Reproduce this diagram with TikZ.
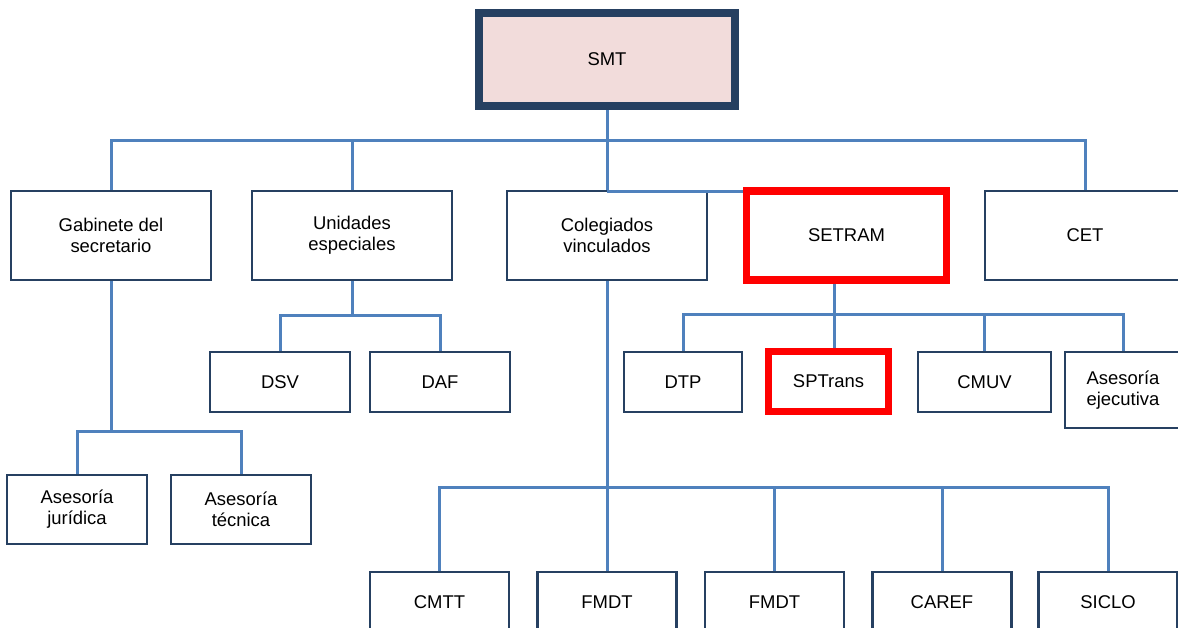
\documentclass[tikz,border=0pt]{standalone}
\usepackage{fontspec}
\setmainfont{Liberation Sans}
\usetikzlibrary{backgrounds}
\definecolor{boxline}{RGB}{38,64,97}
\definecolor{linkblue}{RGB}{79,129,189}
\definecolor{smtfill}{RGB}{242,220,219}

\begin{document}
\begin{tikzpicture}[
  x=0.02cm, y=-0.02cm,
  box/.style={draw=boxline, line width=0.055cm, fill=white, align=center, inner sep=0pt, outer sep=0pt, font=\fontsize{10.5}{12}\selectfont},
  topbox/.style={box, minimum width=4cm, minimum height=1.78cm},
  subbox/.style={box, minimum height=1.2cm},
  hot/.style={draw=red, line width=0.15cm},
  link/.style={draw=linkblue, line width=0.06cm},
]
\useasboundingbox (0,0) rectangle (1178,628);

% Secretaria
\node[box, fill=smtfill, line width=0.16cm, minimum width=5.12cm, minimum height=1.86cm] (smt) at (607,59.5) {SMT};

% First level
\node[topbox] (gab) at (111,235.5) {Gabinete del\\secretario};
\node[topbox] (uni) at (352,235.5) {Unidades\\especiales};
\node[topbox] (col) at (607,235.5) {Colegiados\\vinculados};
\node[topbox, hot] (setram) at (846.5,235.5) {SETRAM};
\node[topbox] (cet) at (1085,235.5) {CET};

% Unidades especiales
\node[subbox, minimum width=2.8cm] (dsv) at (280,382) {DSV};
\node[subbox, minimum width=2.8cm] (daf) at (440,382) {DAF};

% SETRAM
\node[subbox, minimum width=2.36cm] (dtp) at (683,382) {DTP};
\node[subbox, hot, line width=0.14cm, minimum width=2.4cm] (sptrans) at (828.5,381.5) {SPTrans};
\node[subbox, minimum width=2.66cm] (cmuv) at (984.5,382) {CMUV};
\node[box, minimum width=2.32cm, minimum height=1.52cm] (eje) at (1123,390) {Asesoría\\ejecutiva};

% Gabinete
\node[box, minimum width=2.8cm, minimum height=1.38cm] (jur) at (77,509.5) {Asesoría\\jurídica};
\node[box, minimum width=2.8cm, minimum height=1.38cm] (tec) at (241,509.5) {Asesoría\\técnica};

% Colegiados
\node[subbox, minimum width=2.78cm] (cmtt) at (439.5,602) {CMTT};
\node[subbox, minimum width=2.78cm] (fmdta) at (607,602) {FMDT};
\node[subbox, minimum width=2.78cm] (fmdtb) at (774.5,602) {FMDT};
\node[subbox, minimum width=2.78cm] (caref) at (942,602) {CAREF};
\node[subbox, minimum width=2.78cm] (siclo) at (1108,602) {SICLO};

% Connectors
\begin{scope}[on background layer]
\coordinate (bus) at (607,141);
\coordinate (unibus) at (352,316);
\coordinate (gabbus) at (111,432);
\coordinate (setbus) at (834,315);
\coordinate (colbus) at (607,488);

\draw[link] (smt.south) -- (col.north);
\draw[link] (gab.north) |- (bus) -| (cet.north);
\draw[link] (uni.north) |- (bus);

\draw[link] (uni.south) -- (unibus);
\draw[link] (dsv.north) |- (unibus) -| (daf.north);

\draw[link] (gab.south) -- (gabbus);
\draw[link] (jur.north) |- (gabbus) -| (tec.north);

\draw[link] (setram.south -| setbus) -- (setbus) -- (sptrans.north -| setbus);
\draw[link] (dtp.north) |- (setbus) -| (eje.north);
\draw[link] (cmuv.north) |- (setbus);

\draw[link] (col.south) -- (colbus) -- (fmdta.north);
\draw[link] (cmtt.north) |- (colbus) -| (siclo.north);
\draw[link] (fmdtb.north) |- (colbus);
\draw[link] (caref.north) |- (colbus);
\end{scope}

% SETRAM tie along the top of Colegiados
\draw[link] (col.north) -- ([xshift=-0.075cm]setram.north west);

\end{tikzpicture}
\end{document}
